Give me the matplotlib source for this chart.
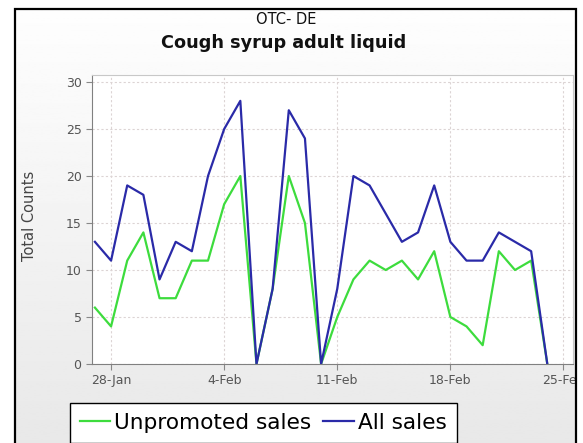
import numpy as np
import pandas as pd
import matplotlib
matplotlib.use("Agg")
import matplotlib.pyplot as plt
import matplotlib.dates as mdates
from matplotlib.patches import Rectangle

# Datos (27-Jan .. 24-Feb)
dias = pd.date_range("2008-01-27", "2008-02-24", freq="D")
todas = [13, 11, 19, 18, 9, 13, 12, 20, 25, 28, 0, 8, 27, 24, 0, 8,
         20, 19, 16, 13, 14, 19, 13, 11, 11, 14, 13, 12, 0]
sin_promo = [6, 4, 11, 14, 7, 7, 11, 11, 17, 20, 0, 8, 20, 15, 0, 5,
             9, 11, 10, 11, 9, 12, 5, 4, 2, 12, 10, 11, 0]
ticks = pd.to_datetime(["2008-01-28", "2008-02-04", "2008-02-11",
                        "2008-02-18", "2008-02-25"])

W, H = 583, 443
fig = plt.figure(figsize=(W / 100, H / 100), dpi=100)
fig.patch.set_facecolor("white")

# Fondo con degradado dentro del marco
bg = fig.add_axes([15 / W, 0, (576 - 15) / W, 1 - 9.5 / H])
grad = np.linspace(0.995, 0.91, 256).reshape(-1, 1)
bg.imshow(grad, aspect="auto", cmap="gray", vmin=0, vmax=1,
          extent=(0, 1, 0, 1))
bg.set_axis_off()

ax = fig.add_axes([92 / W, 1 - 364 / H, (573 - 92) / W, (364 - 75) / H])
ax.set_facecolor("white")
ax.plot(dias, sin_promo, color="#3ddc3d", lw=1.6, label="Unpromoted sales")
ax.plot(dias, todas, color="#2a2aa8", lw=1.6, label="All sales")

x0 = mdates.date2num(ticks[0]) - 1.18
x1 = mdates.date2num(ticks[-1]) + 0.59
ax.set_xlim(x0, x1)
ax.set_ylim(0, 30.75)
ax.set_yticks([0, 5, 10, 15, 20, 25, 30])
ax.set_xticks(ticks)
ax.xaxis.set_major_formatter(mdates.DateFormatter("%-d-%b"))

ax.grid(True, color="#dcd4d4", ls=(0, (2, 2)), lw=0.8)
ax.tick_params(colors="#888888", labelcolor="#555555", labelsize=9,
               length=4, width=0.8)
for s in ["left", "bottom"]:
    ax.spines[s].set_color("#808080")
for s in ["top", "right"]:
    ax.spines[s].set_color("#c8c8c8")

fig.text(30 / W, 1 - 216 / H, "Total Counts", rotation=90, ha="center",
         va="center", fontsize=10.5, color="#444444")

fig.text(286 / W, 1 - 19 / H, "OTC- DE", ha="center", va="center",
         fontsize=10.5, color="#111111")
fig.text(284 / W, 1 - 43 / H, "Cough syrup adult liquid", ha="center",
         va="center", fontsize=12.7, fontweight="bold", color="#111111")

leg = fig.legend(loc="upper left", bbox_to_anchor=(70 / W, 1 - 403 / H),
                 ncol=2, fontsize=15.6, frameon=True, fancybox=False,
                 handlelength=1.4, handletextpad=0.2, columnspacing=0.55,
                 borderpad=0.45, borderaxespad=0)
leg.get_frame().set_edgecolor("black")
leg.get_frame().set_linewidth(1.0)
leg.get_frame().set_alpha(1)

# Tapar lo que sale del marco y dibujar el marco
fig.patches.append(Rectangle((576 / W, 0), 1, 1, transform=fig.transFigure,
                             facecolor="white", edgecolor="none", zorder=10))
fig.add_artist(Rectangle((15 / W, -0.05), (576 - 15) / W, 1.05 - 9.5 / H,
                         transform=fig.transFigure, facecolor="none",
                         edgecolor="black", lw=1.6, zorder=11))

fig.savefig("out.png", dpi=100)
